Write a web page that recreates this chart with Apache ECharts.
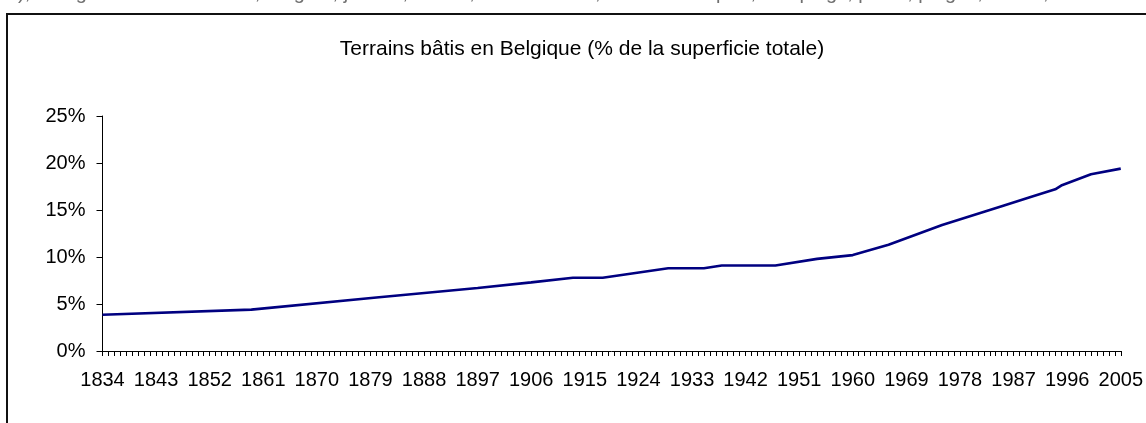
<!DOCTYPE html>
<html>
<head>
<meta charset="utf-8">
<script src="https://cdn.jsdelivr.net/npm/echarts@6/dist/echarts.min.js"></script>
<style>
  html, body { margin: 0; padding: 0; background: #fff; }
  #chart { width: 1146px; height: 423px; }
</style>
</head>
<body>
<div id="chart"></div>
<script>
// years on the category axis (one tick per year)
const firstYear = 1834;
const lastYear = 2005;
const years = [];
for (let y = firstYear; y <= lastYear; y++) years.push(String(y));

// readings (% of total area)
const keyYears = [1834, 1859, 1880, 1897, 1906, 1913, 1918, 1929, 1935, 1938, 1947, 1954, 1960, 1966, 1975, 1985, 1990, 1994, 1995, 2000, 2005];
const keyShares = [3.85, 4.4, 5.7, 6.7, 7.3, 7.8, 7.8, 8.8, 8.8, 9.1, 9.1, 9.8, 10.2, 11.3, 13.4, 15.4, 16.4, 17.2, 17.6, 18.8, 19.4];

const yTicks = [0, 5, 10, 15, 20, 25];

const titleText = 'Terrains bâtis en Belgique (% de la superficie totale)';
const noteText = '), il s\u2019agit des terrains bâtis, vergers, jardins, routes, voies ferrées, terrains de sport, campings, parcs, plages, dunes, etc.';

// map readings onto the year categories, gaps are joined by the library
const seriesData = years.map(function (y) {
  const i = keyYears.indexOf(Number(y));
  return i >= 0 ? keyShares[i] : null;
});

const chart = echarts.init(document.getElementById('chart'), null, { renderer: 'canvas' });

const font = 'Arial, "Liberation Sans", sans-serif';

chart.setOption({
  animation: false,
  backgroundColor: '#ffffff',
  graphic: [
    {
      type: 'rect',
      shape: { x: 7, y: 14, width: 1300, height: 600 },
      style: { fill: 'none', stroke: '#111', lineWidth: 2 }
    },
    {
      type: 'text',
      left: 18,
      top: -17,
      style: { text: noteText, font: '20px ' + font, fill: '#707070' }
    },
    {
      type: 'text',
      x: 582,
      y: 49,
      style: {
        text: titleText,
        font: '21px ' + font,
        fill: '#000',
        align: 'center',
        verticalAlign: 'middle'
      }
    }
  ],
  grid: { left: 102.5, right: 16, top: 116, bottom: 72, containLabel: false },
  xAxis: {
    type: 'category',
    data: years,
    boundaryGap: false,
    axisLine: { lineStyle: { color: '#000', width: 1 } },
    axisTick: { show: true, interval: 0, length: 5, lineStyle: { color: '#000' } },
    axisLabel: {
      interval: 8,
      margin: 19,
      fontFamily: font,
      fontSize: 20,
      color: '#000',
      showMaxLabel: true,
      hideOverlap: false
    },
    splitLine: { show: false }
  },
  yAxis: {
    type: 'value',
    min: yTicks[0],
    max: yTicks[yTicks.length - 1],
    interval: 5,
    axisLine: { show: true, lineStyle: { color: '#000', width: 1 } },
    axisTick: { show: true, length: 6, lineStyle: { color: '#000' } },
    axisLabel: {
      formatter: '{value}%',
      margin: 17,
      fontFamily: font,
      fontSize: 20,
      color: '#000'
    },
    splitLine: { show: false }
  },
  series: [{
    type: 'line',
    data: seriesData,
    connectNulls: true,
    showSymbol: false,
    symbol: 'none',
    lineStyle: { color: '#000080', width: 2.6 }
  }]
});
</script>
</body>
</html>
